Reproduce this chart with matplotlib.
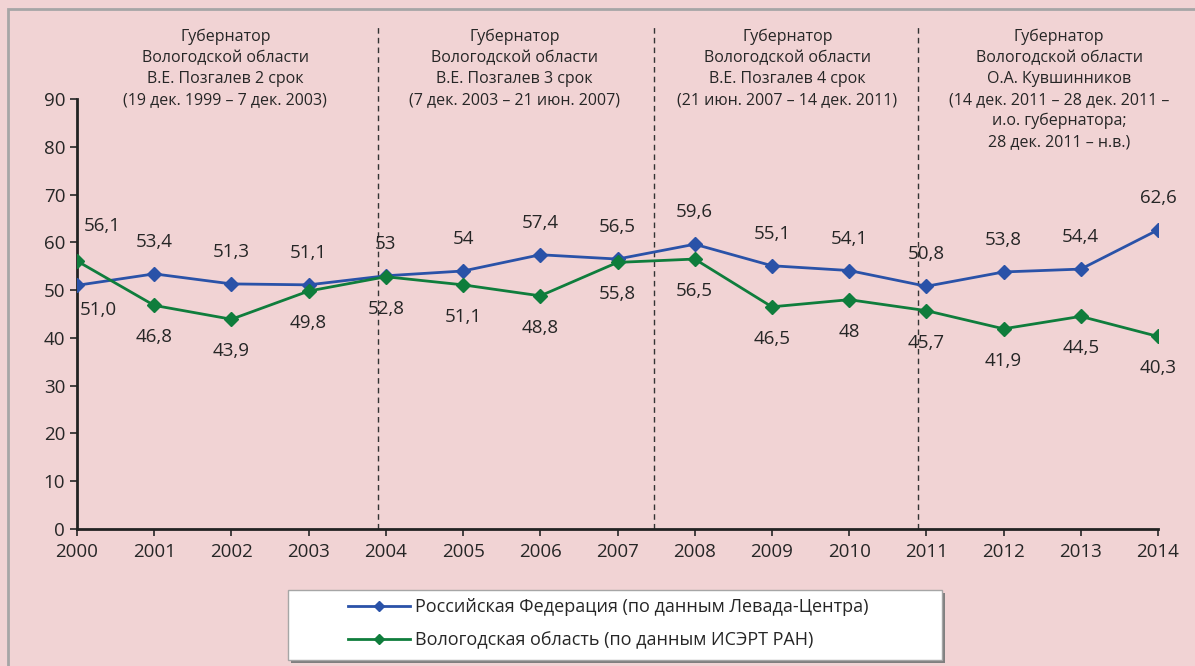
import matplotlib.pyplot as plt
from matplotlib.patches import Rectangle

plt.rcParams['font.family'] = ['Open Sans', 'DejaVu Sans']

years = list(range(2000, 2015))
rf = [51.0, 53.4, 51.3, 51.1, 53, 54, 57.4, 56.5, 59.6, 55.1, 54.1, 50.8, 53.8, 54.4, 62.6]
vol = [56.1, 46.8, 43.9, 49.8, 52.8, 51.1, 48.8, 55.8, 56.5, 46.5, 48, 45.7, 41.9, 44.5, 40.3]
rf_labels = ['51,0', '53,4', '51,3', '51,1', '53', '54', '57,4', '56,5', '59,6',
             '55,1', '54,1', '50,8', '53,8', '54,4', '62,6']
vol_labels = ['56,1', '46,8', '43,9', '49,8', '52,8', '51,1', '48,8', '55,8', '56,5',
              '46,5', '48', '45,7', '41,9', '44,5', '40,3']

periods = [
    "Губернатор\nВологодской области\nВ.Е. Позгалев 2 срок\n(19 дек. 1999 – 7 дек. 2003)",
    "Губернатор\nВологодской области\nВ.Е. Позгалев 3 срок\n(7 дек. 2003 – 21 июн. 2007)",
    "Губернатор\nВологодской области\nВ.Е. Позгалев 4 срок\n(21 июн. 2007 – 14 дек. 2011)",
    "Губернатор\nВологодской области\nО.А. Кувшинников\n(14 дек. 2011 – 28 дек. 2011 –\nи.о. губернатора;\n28 дек. 2011 – н.в.)",
]
period_x = [2001.92, 2005.67, 2009.2, 2012.72]
borders = [2003.9, 2007.47, 2010.89]

bg = '#f1d3d4'
blue = '#2a52a8'
green = '#0f7d3c'
txt = '#262626'

fig = plt.figure(figsize=(11.95, 6.66), dpi=100)
fig.patch.set_facecolor(bg)

# рамка
fig.patches.append(Rectangle((8 / 1195, -0.1), 1.2, 1 - 9 / 666 + 0.1, transform=fig.transFigure,
                             fill=False, edgecolor='#a6a6a6', linewidth=2))

ax = fig.add_axes([77 / 1195, 1 - 529 / 666, 1081 / 1195, 430 / 666])
ax.set_facecolor('none')

ax.plot(years, rf, color=blue, lw=2, marker='D', ms=7, zorder=3,
        label='Российская Федерация (по данным Левада-Центра)')
ax.plot(years, vol, color=green, lw=2, marker='D', ms=7, zorder=3,
        label='Вологодская область (по данным ИСЭРТ РАН)')

fs = 13.5
for i, y in enumerate(years):
    if i == 0:
        ax.annotate(rf_labels[i], (y, rf[i]), xytext=(15, -18), textcoords='offset points',
                    ha='center', va='center', fontsize=fs, color=txt)
        ax.annotate(vol_labels[i], (y, vol[i]), xytext=(18, 25), textcoords='offset points',
                    ha='center', va='center', fontsize=fs, color=txt)
    else:
        ax.annotate(rf_labels[i], (y, rf[i]), xytext=(0, 23), textcoords='offset points',
                    ha='center', va='center', fontsize=fs, color=txt)
        ax.annotate(vol_labels[i], (y, vol[i]), xytext=(0, -23), textcoords='offset points',
                    ha='center', va='center', fontsize=fs, color=txt)

for b in borders:
    ax.axvline(b, ymin=0, ymax=(529 - 27) / 430, color='#333333', lw=1, ls=(0, (4, 3)),
               clip_on=False, zorder=1)

for x, t in zip(period_x, periods):
    ax.text(x, (529 - 29) / 430, t, transform=ax.get_xaxis_transform(), ha='center', va='top',
            fontsize=11.5, color=txt, linespacing=1.4)

ax.set_xlim(2000, 2014)
ax.set_ylim(0, 90)
ax.set_xticks(years)
ax.set_yticks(range(0, 91, 10))
ax.tick_params(axis='both', labelsize=13.5, colors=txt, length=5, width=1.2)
ax.tick_params(axis='x', pad=5)
for s in ['top', 'right']:
    ax.spines[s].set_visible(False)
for s in ['left', 'bottom']:
    ax.spines[s].set_linewidth(2)
    ax.spines[s].set_color('#222222')

# легенда
fig.patches.append(Rectangle((291 / 1195, 1 - 663 / 666), 654 / 1195, 70 / 666, transform=fig.transFigure,
                             facecolor='#7f7f7f', edgecolor='none'))
fig.patches.append(Rectangle((288 / 1195, 1 - 660 / 666), 654 / 1195, 70 / 666, transform=fig.transFigure,
                             facecolor='white', edgecolor='#a6a6a6', linewidth=1))
leg = fig.legend(loc='center left', bbox_to_anchor=(332 / 1195, 1 - 624 / 666), frameon=False,
                 fontsize=13, handlelength=3.4, handletextpad=0.3, labelspacing=0.85,
                 markerscale=0.7)
for t in leg.get_texts():
    t.set_color(txt)

fig.savefig('out.png', dpi=100, facecolor=bg)
